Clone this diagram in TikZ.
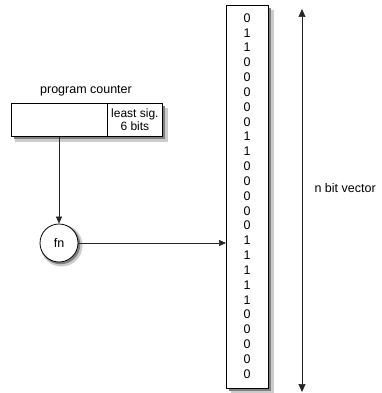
\documentclass[tikz,border=0pt]{standalone}
\usepackage{fontspec}
\setmainfont{Liberation Sans}
\usetikzlibrary{arrows.meta}
\begin{document}
\begin{tikzpicture}[x=1pt,y=-1pt,
  every node/.style={font=\fontsize{12.5}{14}\selectfont},
  shbox/.style={draw=black, line width=0.8pt, fill=white},
  shA/.style={draw=black!20, line width=5pt},
  shB/.style={draw=black!50, line width=2.5pt},
  conn/.style={draw=black!85, line width=0.7pt},
  tip/.style={-{Triangle[length=7pt,width=6pt]}},
  bit/.style={inner sep=0pt, anchor=center}]
\useasboundingbox (0,0) rectangle (382,393);
% shadows (drawn first, behind the shapes)
\draw[shA] (165,108) -- (165,139) -- (15,139);
\draw[shB] (163.5,106) -- (163.5,137.5) -- (14,137.5);
\draw[shA] (271,10) -- (271,391) -- (231,391);
\draw[shB] (269.5,8) -- (269.5,389.5) -- (229,389.5);
\draw[shA] (61.5,245.5) circle (18.5);
\draw[shB] (60.5,244.5) circle (18.5);
% program counter
\node[shbox, minimum width=97pt, minimum height=33pt, inner sep=0pt, anchor=north west] (pcl) at (11,103) {};
\node[shbox, minimum width=55pt, minimum height=33pt, inner sep=0pt, anchor=north west, align=center,
  font=\fontsize{12}{13}\selectfont] (pcr) at (107,103) {least sig.\\6 bits};
\node[anchor=south] (pclab) at (86,100) {program counter};
% fn circle
\node[shbox, circle, minimum size=38pt, inner sep=0pt, line width=0.8pt] (fn) at (59,243) {fn};
% vector
\node[shbox, minimum width=42pt, minimum height=383pt, inner sep=0pt, anchor=north west] (vec) at (226,5) {};
\foreach \b [count=\i from 0] in {0,1,1,0,0,0,0,0,1,1,0,0,0,0,0,1,1,1,1,1,0,0,0,0,0}{
  \node[bit] (b\i) at (247,{18+\i*14.83}) {\b};
}
% connectors
\draw[conn, tip] (pcl.south -| fn.north) -- (fn.north);
\draw[conn, tip] (fn.east) -- (fn.east -| vec.west);
% n bit vector arrow
\coordinate (atop) at (302,9);
\coordinate (abot) at (302,392);
\draw[conn, {Triangle[length=8pt,width=7pt]}-{Triangle[length=8pt,width=7pt]}] (atop) -- (abot);
\node[anchor=west] (nlab) at (311,188) {n bit vector};
\end{tikzpicture}
\end{document}
